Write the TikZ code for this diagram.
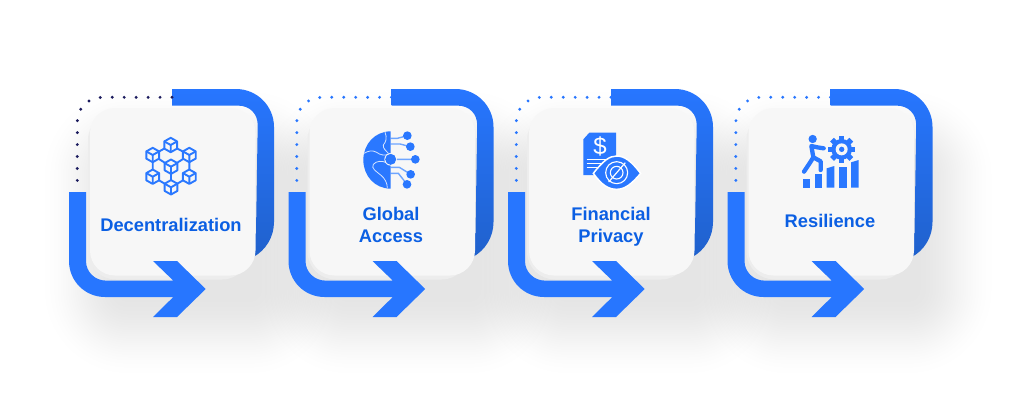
\documentclass[tikz,border=0pt]{standalone}
\usepackage{fontspec}
\setmainfont{Liberation Sans}
\definecolor{bandblue}{HTML}{2776FF}
\definecolor{banddark}{HTML}{2061CC}
\definecolor{labelblue}{HTML}{0B5FE3}
\definecolor{iconblue}{HTML}{2A78FF}
\definecolor{wirelight}{HTML}{6EA5FF}
\definecolor{navydot}{HTML}{1B1B5E}
\definecolor{cardface}{HTML}{F7F7F7}
\definecolor{cardback}{HTML}{EDEDED}
\tikzset{
  bandfill/.style={fill=bandblue},
  bandshade/.style={top color=bandblue,middle color=bandblue,bottom color=banddark},
  cardfront/.style={fill=cardface,rounded corners=25pt},
  cardbehind/.style={fill=cardback,rounded corners=28pt},
  dotline/.style={line width=3.2pt,line cap=round,dash pattern=on 0pt off 11.95pt},
  steplabel/.style={font=\bfseries\fontsize{18.3}{22}\selectfont,text=labelblue,align=center,inner sep=0pt},
  iconline/.style={draw=iconblue,line width=1.9pt,line join=round},
  softshadow/.style={fill=black,fill opacity=0.005},
}
\begin{document}
\begin{tikzpicture}[x=1pt,y=-1pt]
\useasboundingbox (0,0) rectangle (1024,410);
\fill[white] (0,0) rectangle (1024,410);
% soft shadows
\foreach \dx in {0,219.5,439,658.5}{
  \begin{scope}[xshift=\dx pt]
  \foreach \i in {0,...,25}{
    \pgfmathsetmacro{\ins}{85*(0.5-sin(asin(1-2*(\i+0.5)/26)/3))}
    \pgfmathsetmacro{\rad}{max(8,90-\ins)}
    \pgfmathsetmacro{\xa}{38+\ins}
    \pgfmathsetmacro{\xb}{340-\ins}
    \pgfmathsetmacro{\ya}{85+\ins}
    \pgfmathsetmacro{\yb}{380-\ins}
    \fill[softshadow,rounded corners=\rad pt] (\xa,\ya) rectangle (\xb,\yb);
  }
  \end{scope}
}
% modules
\foreach \dx/\dotc in {0/navydot,219.5/bandblue,439/bandblue,658.5/bandblue}{
  \begin{scope}[xshift=\dx pt]
  \shade[bandshade] (172,89) -- (236,89) .. controls (257,89) and (274,106) .. (274,127)
     -- (274,222) .. controls (274,236.8) and (265.9,250.4) .. (252.8,257.3)
     -- (245,245) -- (256,233) -- (257.7,125) .. controls (257.7,114) and (250,105.6) .. (238,105.6)
     -- (172,105.6) -- cycle;
  \fill[cardbehind] (88,112) rectangle (250,279.5);
  \fill[cardfront] (90,108) rectangle (255.5,275.5);
  \fill[bandfill] (69,192) -- (69,261) .. controls (69,281) and (85,297) .. (105,297)
     -- (173.3,297) -- (153,317) -- (177,317) -- (205.7,289) -- (177,261) -- (153,261)
     -- (173.3,280.6) -- (106,280.6) .. controls (95,280.6) and (86,272) .. (86,261) -- (86,192) -- cycle;
  \coordinate (dotstart) at (172,97.3);
  \coordinate (dotend) at (77.3,192);
  \draw[dotline,draw=\dotc] (dotstart) -- (102,97.3) .. controls (88,97.3) and (77.3,108) .. (77.3,122) -- (dotend);
  \end{scope}
}
% labels
\node[steplabel] (decentral) at (171,225) {Decentralization};
\node[steplabel] (globalacc) at (391,225) {Global\\Access};
\node[steplabel] (finpriv) at (611,227) {Financial\\Privacy};
\node[steplabel] (resil) at (830,221) {Resilience};
% icon 1: cubes
\coordinate (ct) at (170.7,145);
\coordinate (cul) at (152.7,155);
\coordinate (cur) at (189.3,155);
\coordinate (cm) at (171,166.7);
\coordinate (cll) at (152.7,176.7);
\coordinate (clr) at (189.3,176.7);
\coordinate (cb) at (171,187.3);
\draw[iconline] (cul)--(ct)--(cur)--(clr)--(cb)--(cll)--(cul)--(cm)--(cur) (cm)--(cb);
\foreach \c in {ct,cul,cur,cm,cll,clr,cb}{
  \begin{scope}[shift={(\c)}]
    \draw[iconline,fill=cardface] (0,-7.2)--(6.4,-3.6)--(6.4,3.6)--(0,7.2)--(-6.4,3.6)--(-6.4,-3.6)--cycle;
    \draw[iconline] (-6.4,-3.6)--(0,0)--(6.4,-3.6) (0,0)--(0,7.2);
  \end{scope}
}
% icon 2: half globe
\begin{scope}[shift={(350,120)},scale=1/3]
  \draw[draw=wirelight,line width=1.4pt]
    (122,55)--(142,55)--(172,47)
    (122,72)--(150,72)--(181,80)
    (122,118)--(196,118)
    (122,142)--(148,142)--(182,163)
    (122,160)--(145,160)--(171,193);
  \fill[iconblue] (122,34) .. controls (75,34) and (40,72) .. (40,120) .. controls (40,168) and (75,206) .. (122,206) -- cycle;
  \draw[white,line width=0.8pt,opacity=.8] (42,100) .. controls (55,92) and (68,90) .. (80,97) .. controls (92,106) and (102,106) .. (115,104);
  \draw[white,line width=0.8pt,opacity=.8] (105,36) .. controls (112,55) and (108,65) .. (100,75) .. controls (98,85) and (108,92) .. (115,100);
  \draw[white,line width=0.8pt,opacity=.8] (110,128) .. controls (95,122) and (80,122) .. (70,133) .. controls (62,145) and (80,155) .. (92,165) .. controls (105,175) and (112,190) .. (112,204);
  \fill[cardface] (122,118) circle[radius=19];
  \fill[iconblue] (122,118) circle[radius=16.5];
  \foreach \px/\py in {172/47,181/80,196/118,182/163,171/193}{
    \fill[iconblue] (\px,\py) circle[radius=13];
  }
\end{scope}
% icon 3: document and eye
\begin{scope}[shift={(570,120)},scale=1/3]
  \fill[iconblue] (58,38) -- (138,38) -- (138,165) -- (40,165) -- (40,58) -- cycle;
  \node[font=\fontsize{24}{24}\selectfont,text=white,inner sep=0pt] (dollar) at (90,79) {\$};
  \draw[white,line width=1.2pt] (50,118)--(112,118) (50,130)--(96,130) (50,142)--(84,142);
  \draw[fill=iconblue,draw=white,line width=1.5pt] (70,160) .. controls (100,122) and (118,108) .. (140,108)
     .. controls (165,108) and (185,125) .. (212,160) .. controls (185,192) and (165,208) .. (140,208)
     .. controls (115,208) and (95,195) .. (70,160) -- cycle;
  \draw[white,line width=1.1pt] (140,158) circle[radius=33];
  \draw[white,line width=1.1pt] (140,158) circle[radius=19];
  \draw[white,line width=1.2pt] (116,186)--(166,128);
\end{scope}
% icon 4: climber, gear, bars
\begin{scope}[shift={(790,120)},scale=1/3]
  \fill[iconblue] (68,57) circle[radius=12.5];
  \draw[iconblue,line width=4.3pt,line cap=round,line join=round]
    (101,85)--(82,82)--(64,78)--(70,112)--(92,124)--(92,150)
    (70,112)--(60,128)--(42,155);
  \foreach \a in {0,45,...,315}{
    \fill[iconblue,rotate around={\a:(155,88)}] (147,47) rectangle (163,62);
  }
  \fill[iconblue] (155,88) circle[radius=31];
  \fill[cardface] (155,88) circle[radius=18];
  \fill[iconblue] (155,88) circle[radius=8];
  \fill[iconblue] (38,178) rectangle (60,203);
  \fill[iconblue] (75,163) rectangle (97,203);
  \fill[iconblue] (110,145) -- (133,138) -- (133,203) -- (110,203) -- cycle;
  \fill[iconblue] (147,142) rectangle (170,203);
  \fill[iconblue] (183,127) -- (206,120) -- (206,203) -- (183,203) -- cycle;
\end{scope}
\end{tikzpicture}
\end{document}
